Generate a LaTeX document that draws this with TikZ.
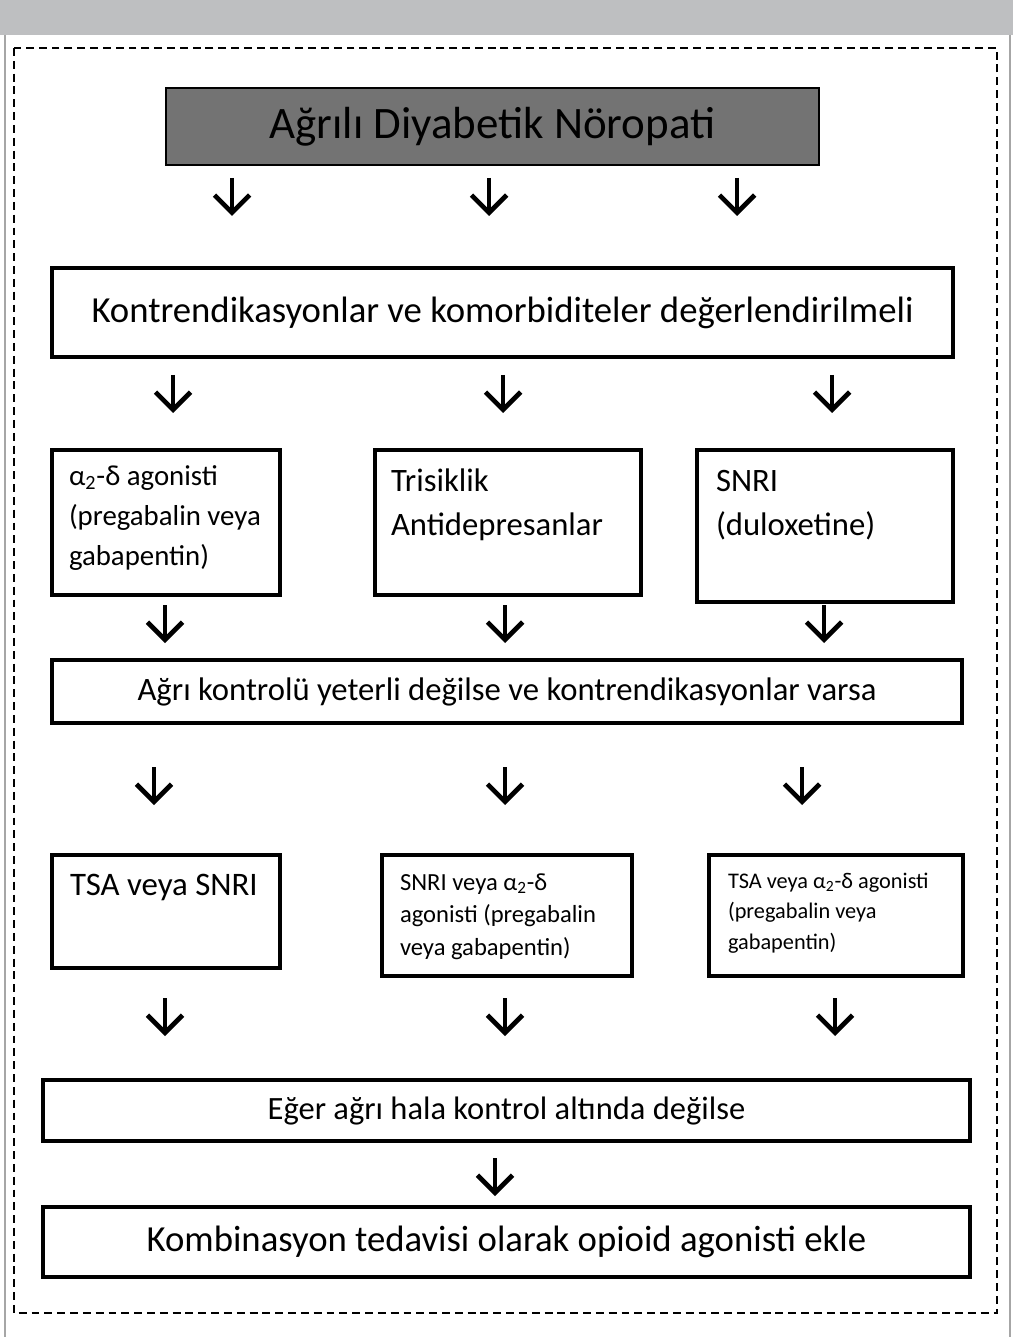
\documentclass[tikz,border=0pt]{standalone}
\usepackage{fontspec}
\setmainfont{Carlito}
\usetikzlibrary{positioning}
\usetikzlibrary{fit}
\usetikzlibrary{arrows.meta}
\definecolor{bargray}{HTML}{BEBFC1}
\definecolor{titlegray}{HTML}{737373}
\definecolor{framegray}{HTML}{A6A6A6}
\newcommand{\fsz}[2]{\fontsize{#1}{#2}\selectfont}
\tikzset{
	x = 0.02cm,
	y = -0.02cm,
	every node/.style={inner sep=0pt, outer sep=0pt},
	box/.style = {draw, line width=2.3pt},
	titlebox/.style = {draw, line width=0.9pt, fill=titlegray},
	txt/.style = {anchor=base west, align=left, text width=#1,
		execute at begin node={\spaceskip=0pt\xspaceskip=0pt\relax}},
	flow/.style = {-{Straight Barb[length=10pt,width=20pt]}, line width=2.7pt},
	dashframe/.style = {dash pattern=on 4.5pt off 2.8pt, line width=0.85pt}
}

\begin{document}
\begin{tikzpicture}
	\useasboundingbox (0,0) rectangle (1013,1337);
	% Page frame
	\fill[bargray] (0,0) rectangle (1013,35);
	\draw[framegray, line width=0.6pt] (5,35) -- (5,1337);
	\draw[framegray, line width=0.6pt] (1010,35) -- (1010,1337);
	\draw[dashframe] (14,48) rectangle (997,1313);
	
	% Title
	\node (title) [titlebox, fit={(166,88) (819,165)}] {};
	\node (title-t) [font=\fsz{25.6}{30}] at (title.center) {Ağrılı Diyabetik Nöropati};
	
	\node (contra) [box, fit={(52,268) (953,357)}] {};
	\node (contra-t) [font=\fsz{20.9}{24}] at (contra.center) {Kontrendikasyonlar ve komorbiditeler değerlendirilmeli};
	
	% First line treatments
	\node (alpha) [box, fit={(52,450) (280,595)}] {};
	\node (tca) [box, fit={(375,450) (641,595)}] {};
	\node (snri) [box, fit={(697,450) (953,602)}] {};
	\node (alpha-t) [txt=6cm, font=\fsz{16.4}{23}] at (69,485) {α\textsubscript{2}-δ agonisti\\(pregabalin veya\\gabapentin)};
	\node (tca-t) [txt=6cm, font=\fsz{18.6}{25.5}] at (391,491) {Trisiklik\\Antidepresanlar};
	\node (snri-t) [txt=6cm, font=\fsz{18.6}{25.5}] at (716,491) {SNRI\\(duloxetine)};
	
	\node (check) [box, fit={(52,660) (962,723)}] {};
	\node (check-t) [font=\fsz{18.6}{21}] at (check.center) {Ağrı kontrolü yeterli değilse ve kontrendikasyonlar varsa};
	
	% Second line treatments
	\node (tsa) [box, fit={(52,855) (280,968)}] {};
	\node (snri2) [box, fit={(382,855) (632,976)}] {};
	\node (tsa2) [box, fit={(709,855) (963,976)}] {};
	\node (tsa-t) [txt=6cm, font=\fsz{18.7}{25}] at (70,895) {TSA veya SNRI};
	\node (snri2-t) [txt=6cm, font=\fsz{14}{18.7}] at (400,890) {SNRI veya α\textsubscript{2}-δ\\agonisti (pregabalin\\veya gabapentin)};
	\node (tsa2-t) [txt=6cm, font=\fsz{12.7}{17.6}] at (728,888) {TSA veya α\textsubscript{2}-δ agonisti\\(pregabalin veya\\gabapentin)};
	
	\node (still) [box, fit={(43,1080) (970,1141)}] {};
	\node (still-t) [font=\fsz{18.5}{21}] at (still.center) {Eğer ağrı hala kontrol altında değilse};
	\node (opioid) [box, fit={(43,1207) (970,1277)}] {};
	\node (opioid-t) [font=\fsz{20.9}{24}] at (opioid.center) {Kombinasyon tedavisi olarak opioid agonisti ekle};
	
	% Arrows
	\foreach \n/\xa/\ys in {1a/232/178, 1b/489/178, 1c/737/178,
		2a/173/375, 2b/503/375, 2c/832/375,
		3a/165/605, 3b/505/605, 3c/824/605,
		4a/154/767, 4b/505/767, 4c/802/767,
		5a/165/998, 5b/505/998, 5c/835/998,
		6a/495/1158}{
		\coordinate (s\n) at (\xa,\ys);
		\coordinate (e\n) at (\xa,\ys+38);
		\draw[flow] (s\n) -- (e\n);
	}
\end{tikzpicture}
\end{document}
